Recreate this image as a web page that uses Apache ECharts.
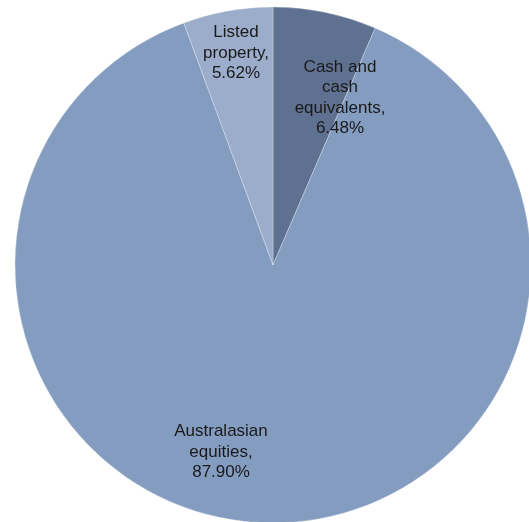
<!DOCTYPE html>
<html>
<head>
<meta charset="utf-8">
<script src="https://cdn.jsdelivr.net/npm/echarts@6/dist/echarts.min.js"></script>
<style>
html,body{margin:0;padding:0;background:#fff;}
#c{width:529px;height:522px;}
</style>
</head>
<body>
<div id="c"></div>
<script>
var categories = ['Cash and\ncash\nequivalents,', 'Australasian\nequities,', 'Listed\nproperty,'];
var values = [6.48, 87.90, 5.62];
var colors = ['#5f7191', '#849cc0', '#9badca'];
var labelPos = [[340, 98], [221, 452], [236, 53]];

var chart = echarts.init(document.getElementById('c'));
chart.setOption({
  animation: false,
  series: [{
    type: 'pie',
    center: [273, 265],
    radius: 258,
    startAngle: 90,
    clockwise: true,
    data: categories.map(function (n, i) {
      return { name: n, value: values[i], itemStyle: { color: colors[i] } };
    }),
    itemStyle: { borderColor: 'rgba(255,255,255,0.35)', borderWidth: 0.8 },
    label: {
      show: true,
      position: 'inside',
      formatter: function (p) { return p.name + '\n' + p.value.toFixed(2) + '%'; },
      fontFamily: 'Liberation Sans',
      fontSize: 17,
      lineHeight: 20.5,
      color: '#1a1a1a',
      align: 'center'
    },
    labelLine: { show: false },
    labelLayout: function (params) {
      var p = labelPos[params.dataIndex];
      return { x: p[0], y: p[1], align: 'center', verticalAlign: 'middle' };
    },
    emphasis: { disabled: true }
  }]
});
</script>
</body>
</html>
